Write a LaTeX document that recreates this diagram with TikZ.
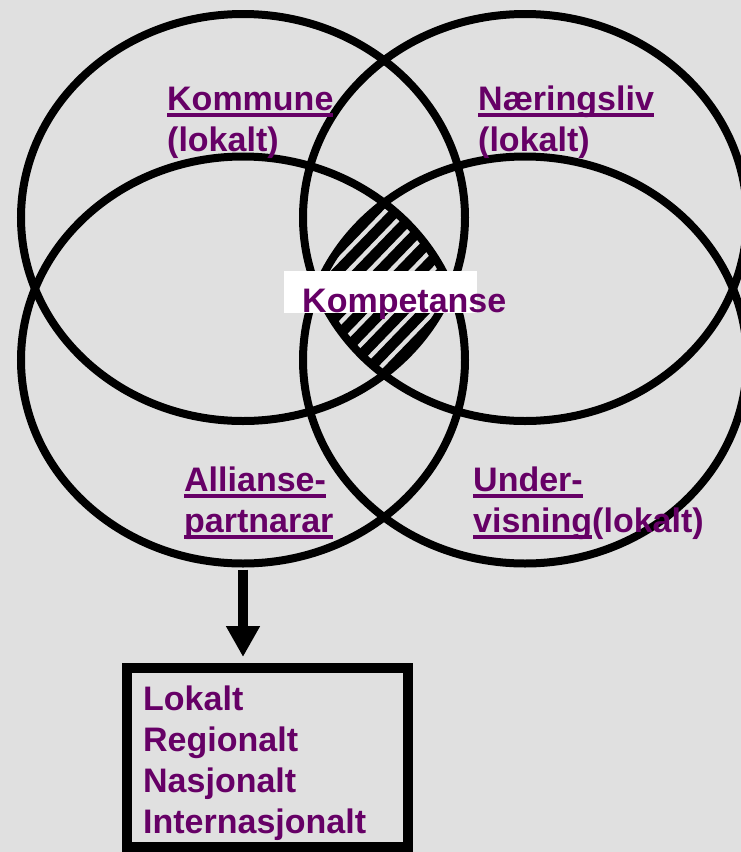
\documentclass[tikz,border=0pt]{standalone}
\usepackage{fontspec}
\setmainfont{Liberation Sans}
\usetikzlibrary{shapes.geometric,arrows.meta}
\definecolor{bgc}{RGB}{224,224,224}
\definecolor{purp}{RGB}{102,0,102}
\newcommand\myul[1]{\setbox0\hbox{#1}\rlap{\rule[-6.75pt]{\wd0}{3.5pt}}\box0}
\begin{document}
\begin{tikzpicture}[x=1pt,y=-1pt,
  ring/.style={ellipse, draw=black, line width=8pt, minimum width=444pt, minimum height=407pt, inner sep=0pt},
  lbl/.style={anchor=base west, inner sep=0pt, text=purp, font=\fontsize{34}{41}\selectfont\bfseries},
  hatch/.style={line width=10.5pt, black}]
\useasboundingbox (0,0) rectangle (741,852);
\fill[bgc] (0,0) rectangle (741,852);
% hatched common region
\begin{scope}
  \clip (243,217.5) ellipse [x radius=222pt, y radius=203.5pt];
  \clip (525,217.5) ellipse [x radius=222pt, y radius=203.5pt];
  \clip (243,360) ellipse [x radius=222pt, y radius=203.5pt];
  \clip (525,360) ellipse [x radius=222pt, y radius=203.5pt];
  \foreach \k in {-10,...,10} \draw[hatch] (287.75,{323.05+21.6*\k}) -- ++(208.5,-215.7);
\end{scope}
% ellipses
\node[ring] (e1) at (243,217.5) {};
\node[ring] (e2) at (525,217.5) {};
\node[ring] (e3) at (243,360) {};
\node[ring] (e4) at (525,360) {};
% centre label
\node (komprect) [fill=white, minimum width=193pt, minimum height=42pt, inner sep=0pt] at (380.5,292) {};
\node[lbl] (komp) at (302,312) {Kompetanse};
% labels
\node[lbl] (kom1) at (167,110) {\myul{Kommune}};
\node[lbl] (kom2) at (167,151) {(lokalt)};
\node[lbl] (nar1) at (478,110) {\myul{Næringsliv}};
\node[lbl] (nar2) at (478,151) {(lokalt)};
\node[lbl] (all1) at (184,491) {\myul{Allianse-}};
\node[lbl] (all2) at (184,532) {\myul{partnarar}};
\node[lbl] (und1) at (473,491) {\myul{Under-}};
\node[lbl] (und2) at (473,532) {\myul{visning}(lokalt)};
% box
\node (box) [draw=black, line width=10pt, minimum width=281pt, minimum height=179pt, inner sep=0pt, outer sep=0pt] at (267.5,757.5) {};
\node[lbl] (b1) at (143,710) {Lokalt};
\node[lbl] (b2) at (143,751) {Regionalt};
\node[lbl] (b3) at (143,792) {Nasjonalt};
\node[lbl] (b4) at (143,833) {Internasjonalt};
% arrow
\draw[line width=10pt, -{Triangle[width=32pt,length=31pt]}, shorten <=2pt, shorten >=11pt] (e3.south) -- (e3.south |- box.north);
\end{tikzpicture}
\end{document}
